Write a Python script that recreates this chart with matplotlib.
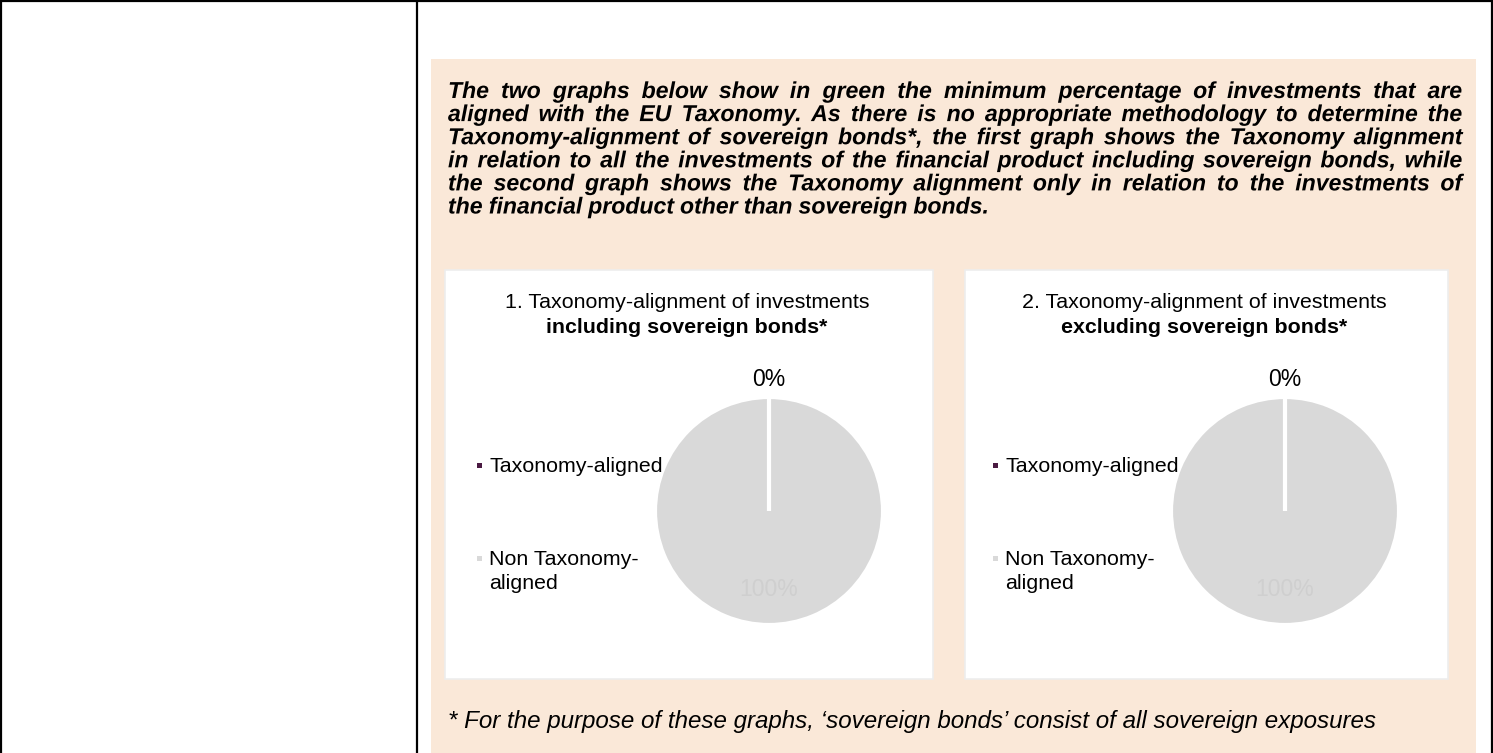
import matplotlib
matplotlib.use("Agg")
import matplotlib.pyplot as plt
import matplotlib.patheffects as pe
from matplotlib.patches import Rectangle
from matplotlib.lines import Line2D
import numpy as np

# ---------------- data ----------------
categories = ["Taxonomy-aligned", "Non Taxonomy-aligned"]
legend_labels = ["Taxonomy-aligned", "Non Taxonomy-\naligned"]
incl_values = [0, 100]
excl_values = [0, 100]
chart_titles = [
    ("1. Taxonomy-alignment of investments", "including sovereign bonds*"),
    ("2. Taxonomy-alignment of investments", "excluding sovereign bonds*"),
]
paragraph_lines = [
    "The two graphs below show in green the minimum percentage of investments that are",
    "aligned with the EU Taxonomy. As there is no appropriate methodology to determine the",
    "Taxonomy-alignment of sovereign bonds*, the first graph shows the Taxonomy alignment",
    "in relation to all the investments of the financial product including sovereign bonds, while",
    "the second graph shows the Taxonomy alignment only in relation to the investments of",
    "the financial product other than sovereign bonds.",
]
footnote = "* For the purpose of these graphs, \u2018sovereign bonds\u2019 consist of all sovereign exposures"

slice_colors = ["#4A1A42", "#D9D9D9"]
BEIGE = "#FAE8D8"
FONT = "Liberation Sans"

# ---------------- figure ----------------
W, H = 1493, 753
fig = plt.figure(figsize=(W / 100, H / 100), dpi=100)
fig.patch.set_facecolor("white")


def fx(x):
    return x / W


def fy(y):
    return 1 - y / H


# table borders
for (x0, y0, x1, y1) in [(0, 0.5, W, 0.5), (0.8, 0, 0.8, H), (W - 0.8, 0, W - 0.8, H), (417, 0, 417, H)]:
    fig.add_artist(Line2D([fx(x0), fx(x1)], [fy(y0), fy(y1)], color="black", lw=1.6,
                          transform=fig.transFigure))

# beige panel
fig.add_artist(Rectangle((fx(431), fy(H + 5)), fx(1476) - fx(431), fy(59) - fy(H + 5),
                         facecolor=BEIGE, edgecolor="none", transform=fig.transFigure, zorder=0))

# paragraph (bold italic, justified)
renderer = fig.canvas.get_renderer()
left, right = 448, 1462
base0, lstep = 98, 23.1
PFS = 16.6
for i, line in enumerate(paragraph_lines):
    words = line.split(" ")
    y = fy(base0 + i * lstep)
    texts = []
    widths = []
    for w in words:
        t = fig.text(0, y, w, fontsize=PFS, fontweight="bold", fontstyle="italic",
                     family=FONT, va="baseline", ha="left", color="black",
                     path_effects=[pe.Normal()])
        bb = t.get_window_extent(renderer=renderer)
        texts.append(t)
        widths.append(bb.width)
    last = i == len(paragraph_lines) - 1
    if last:
        gap = PFS * 0.278 * 100 / 72
    else:
        gap = (right - left - sum(widths)) / (len(words) - 1)
    x = left
    for t, wd in zip(texts, widths):
        t.set_x(fx(x))
        x += wd + gap

# footnote
fig.text(fx(448), fy(728), footnote, fontsize=17.35, fontstyle="italic", family=FONT,
         va="baseline", ha="left", color="black")

# chart boxes
boxes = [(445, 270, 933, 679), (965, 270, 1448, 679)]
pie_centers = [(769, 511), (1285, 511)]
legend_x = [479, 995]
R = 114
series = [incl_values, excl_values]

for k in range(2):
    bx0, by0, bx1, by1 = boxes[k]
    fig.add_artist(Rectangle((fx(bx0), fy(by1)), fx(bx1) - fx(bx0), fy(by0) - fy(by1),
                             facecolor="white", edgecolor="#EDEDED", lw=1.2,
                             transform=fig.transFigure, zorder=1))
    # titles
    tcx = (bx0 + bx1) / 2 - 2
    fig.text(fx(tcx), fy(308), chart_titles[k][0], fontsize=15.4, family=FONT,
             ha="center", va="baseline", color="black")
    fig.text(fx(tcx), fy(333), chart_titles[k][1], fontsize=15.4, family=FONT,
             fontweight="bold", ha="center", va="baseline", color="black")

    # pie
    cx, cy = pie_centers[k]
    half = R * 1.4
    ax = fig.add_axes([fx(cx - half), fy(cy + half), 2 * half / W, 2 * half / H])
    ax.set_zorder(2)
    wedges, _ = ax.pie(series[k], colors=slice_colors, startangle=90, counterclock=False,
                       radius=1.0, wedgeprops=dict(edgecolor="white", linewidth=3.0))
    ax.set_xlim(-1.4, 1.4)
    ax.set_ylim(-1.4, 1.4)
    ax.set_aspect("equal")
    ax.axis("off")
    total = sum(series[k])
    for w, v in zip(wedges, series[k]):
        ang = np.deg2rad((w.theta1 + w.theta2) / 2)
        if v == 0:
            w.set_zorder(5)  # keep the zero slice's separator line visible
            d, col = 1.155, "black"
        else:
            d, col = 0.69, "#CFCFCF"
        ax.text(d * np.cos(ang), d * np.sin(ang), f"{v / total * 100:.0f}%", ha="center",
                va="center", fontsize=16.5, color=col, family=FONT, zorder=6)

    # legend
    lx = legend_x[k]
    ys = [465, 558]
    for j, lab in enumerate(legend_labels):
        fig.add_artist(Rectangle((fx(lx - 2.5), fy(ys[j] + 2.5)), 5 / W, 5 / H,
                                 facecolor=slice_colors[j], edgecolor="none",
                                 transform=fig.transFigure, zorder=3))
        for m, part in enumerate(lab.split("\n")):
            fig.text(fx(lx + 10), fy(ys[j] + 7 + 24 * m), part, fontsize=15.4, family=FONT,
                     ha="left", va="baseline", color="black", zorder=3)

fig.savefig("out.png", dpi=100, facecolor="white")
